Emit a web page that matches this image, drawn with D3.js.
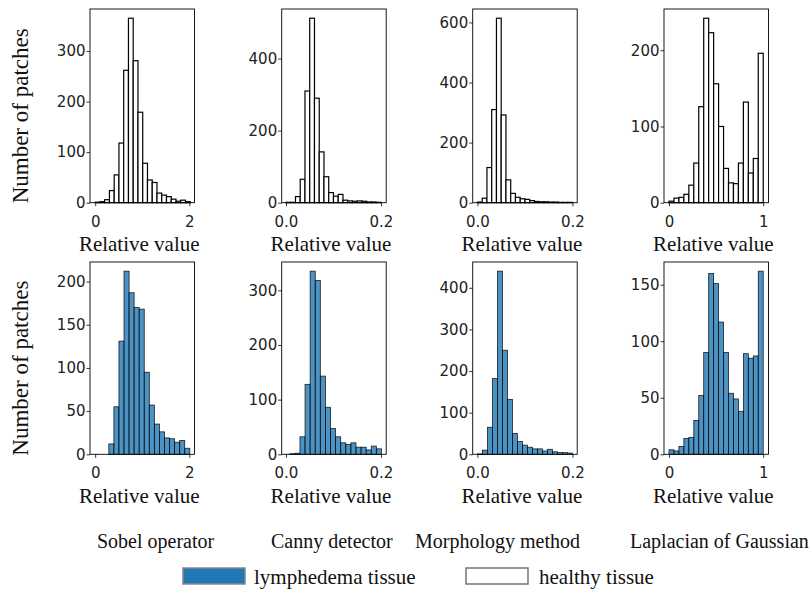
<!DOCTYPE html>
<html>
<head>
<meta charset="utf-8">
<script src="https://cdn.jsdelivr.net/npm/d3@7"></script>
<style>
  body { margin: 0; background: #fff; }
  .tick text { font-family: "DejaVu Sans", sans-serif; font-size: 15px; fill: #222; }
  .tick line { stroke: #000; stroke-width: 0.8; }
  .serif { font-family: "Liberation Serif", "Times New Roman", serif; fill: #111; }
</style>
</head>
<body>
<svg width="812" height="600"></svg>
<script>
// methods, one per column
const methods = ['Sobel operator', 'Canny detector', 'Morphology method', 'Laplacian of Gaussian'];

// x limits, ticks and tick labels per column
const xLimits = [[-0.11, 2.11], [-0.009, 0.211], [-0.01, 0.21], [-0.053, 1.056]];
const xTicks = [[0, 2], [0, 0.2], [0, 0.2], [0, 1]];
const xTickLabels = [['0', '2'], ['0.0', '0.2'], ['0.0', '0.2'], ['0', '1']];

// healthy tissue (top row): bin range and counts
const healthyRange = [[0, 2.02], [0, 0.2], [0, 0.2], [0, 1.0]];
const healthyCounts = [
    [1, 2, 6, 24, 55, 118, 262, 365, 281, 179, 78, 45, 40, 19, 15, 12, 7, 3, 5, 2],
    [1, 1, 17, 65, 310, 512, 290, 141, 72, 28, 18, 23, 7, 5, 4, 5, 4, 2, 2, 1],
    [2, 15, 117, 310, 614, 292, 76, 31, 18, 13, 11, 7, 4, 3, 3, 2, 2, 1, 1, 1],
    [2, 6, 7, 11, 23, 52, 126, 242, 223, 156, 100, 45, 26, 25, 52, 132, 39, 58, 196]
];
const healthyYTicks = [[0, 100, 200, 300], [0, 200, 400], [0, 200, 400, 600], [0, 100, 200]];

// lymphedema tissue (bottom row)
const lymphRange = [[0.29, 2.01], [0.008, 0.201], [0, 0.2], [0, 1.0]];
const lymphCounts = [
    [12, 55, 131, 212, 187, 170, 168, 95, 57, 35, 26, 19, 18, 14, 16, 7],
    [1, 2, 32, 128, 335, 318, 143, 86, 47, 32, 21, 18, 21, 13, 13, 8, 15, 10],
    [1, 10, 65, 182, 440, 250, 132, 50, 31, 22, 17, 13, 13, 8, 12, 6, 4, 4, 3],
    [4, 3, 7, 14, 15, 30, 52, 90, 160, 151, 117, 90, 54, 49, 38, 89, 85, 87, 162]
];
const lymphYTicks = [[0, 50, 100, 150, 200], [0, 100, 200, 300], [0, 100, 200, 300, 400], [0, 50, 100, 150]];

const legendLabels = ['lymphedema tissue', 'healthy tissue'];

const svg = d3.select('svg');

const colLeft = [90, 281.7, 472.7, 664];
const boxW = 104.5;
const rows = [
    {top: 9, bottom: 202.7, range: healthyRange, counts: healthyCounts, yTicks: healthyYTicks,
     fill: '#fff', stroke: '#000', strokeW: 1.2, labelY: 251},
    {top: 262, bottom: 454.3, range: lymphRange, counts: lymphCounts, yTicks: lymphYTicks,
     fill: 'rgba(31,119,180,0.8)', stroke: 'rgba(0,0,0,0.85)', strokeW: 0.8, labelY: 503}
];

rows.forEach(function(row, r) {
    methods.forEach(function(m, c) {
        const left = colLeft[c];
        const xScale = d3.scaleLinear().domain(xLimits[c]).range([left, left + boxW]);
        const counts = row.counts[c];
        const yScale = d3.scaleLinear()
            .domain([0, d3.max(counts) * 1.05])
            .range([row.bottom, row.top]);

        const g = svg.append('g');
        const lo = row.range[c][0], hi = row.range[c][1];
        const w = (hi - lo) / counts.length;

        g.selectAll('rect.bar')
            .data(counts)
            .enter()
            .append('rect')
            .attr('class', 'bar')
            .attr('x', (d, i) => xScale(lo + i * w))
            .attr('width', (d, i) => xScale(lo + (i + 1) * w) - xScale(lo + i * w))
            .attr('y', d => yScale(d))
            .attr('height', d => yScale(0) - yScale(d))
            .style('fill', row.fill)
            .style('stroke', row.stroke)
            .style('stroke-width', row.strokeW);

        // frame
        g.append('rect')
            .attr('x', left)
            .attr('y', row.top)
            .attr('width', boxW)
            .attr('height', row.bottom - row.top)
            .style('fill', 'none')
            .style('stroke', '#000')
            .style('stroke-width', 0.9);

        const xAxis = d3.axisBottom(xScale)
            .tickValues(xTicks[c])
            .tickFormat((d, i) => xTickLabels[c][i])
            .tickSizeOuter(0)
            .tickSize(3.5)
            .tickPadding(10);
        g.append('g')
            .attr('transform', 'translate(0,' + row.bottom + ')')
            .call(xAxis)
            .call(a => a.select('.domain').remove());

        const yAxis = d3.axisLeft(yScale)
            .tickValues(row.yTicks[c])
            .tickSizeOuter(0)
            .tickSize(3.5)
            .tickPadding(1);
        g.append('g')
            .attr('transform', 'translate(' + left + ',0)')
            .call(yAxis)
            .call(a => a.select('.domain').remove());

        // x label
        g.append('text')
            .attr('class', 'serif')
            .attr('x', left + boxW / 2 - 3)
            .attr('y', row.labelY)
            .attr('text-anchor', 'middle')
            .style('font-size', '21px')
            .text('Relative value');

        if (c === 0) {
            g.append('text')
                .attr('class', 'serif')
                .attr('transform', 'translate(28,' + ((row.top + row.bottom) / 2 + 10) + ')rotate(-90)')
                .attr('text-anchor', 'middle')
                .style('font-size', '23px')
                .text('Number of  patches');
        }
    });
});

// method names
const methodX = [97, 271, 415, 630];
svg.selectAll('text.method')
    .data(methods)
    .enter()
    .append('text')
    .attr('class', 'serif method')
    .attr('x', (d, i) => methodX[i])
    .attr('y', 548)
    .style('font-size', '20px')
    .text(d => d);

// legend
const legend = svg.append('g');
legend.append('rect')
    .attr('x', 183).attr('y', 568).attr('width', 62).attr('height', 16)
    .style('fill', '#1f77b4').style('stroke', '#888').style('stroke-width', 1.5);
legend.append('text')
    .attr('class', 'serif')
    .attr('x', 254).attr('y', 584)
    .style('font-size', '21px')
    .text(legendLabels[0]);
legend.append('rect')
    .attr('x', 466).attr('y', 568).attr('width', 62).attr('height', 16)
    .style('fill', '#fff').style('stroke', '#777').style('stroke-width', 1.5);
legend.append('text')
    .attr('class', 'serif')
    .attr('x', 539).attr('y', 584)
    .style('font-size', '21px')
    .text(legendLabels[1]);
</script>
</body>
</html>
